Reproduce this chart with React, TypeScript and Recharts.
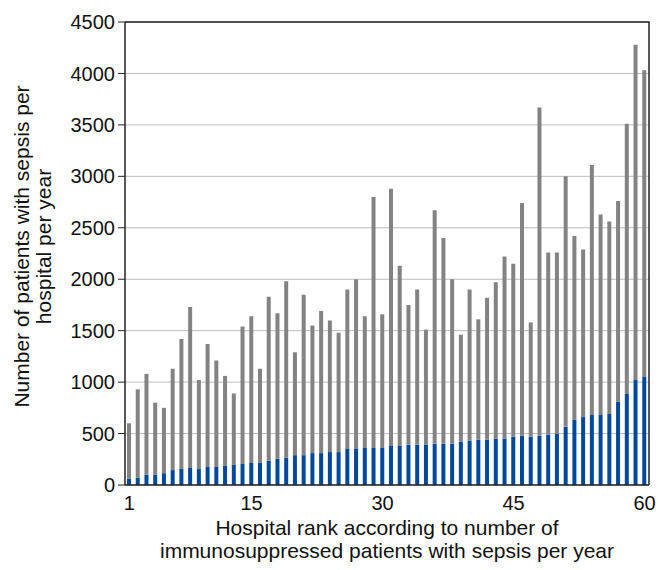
import { BarChart, Bar, XAxis, YAxis, CartesianGrid } from "recharts";

const ranks = [
  1, 2, 3, 4, 5, 6, 7, 8, 9, 10, 11, 12, 13, 14, 15, 16, 17, 18, 19, 20,
  21, 22, 23, 24, 25, 26, 27, 28, 29, 30, 31, 32, 33, 34, 35, 36, 37, 38, 39, 40,
  41, 42, 43, 44, 45, 46, 47, 48, 49, 50, 51, 52, 53, 54, 55, 56, 57, 58, 59, 60,
];

// all patients with sepsis per hospital per year
const totalSepsis = [
  600, 930, 1080, 800, 750, 1130, 1420, 1730, 1020, 1370,
  1210, 1060, 890, 1540, 1640, 1130, 1830, 1670, 1980, 1290,
  1850, 1550, 1690, 1600, 1480, 1900, 2000, 1640, 2800, 1660,
  2880, 2130, 1750, 1900, 1510, 2670, 2400, 2000, 1460, 1900,
  1610, 1820, 1970, 2220, 2150, 2740, 1580, 3670, 2260, 2260,
  3000, 2420, 2290, 3110, 2630, 2560, 2760, 3510, 4280, 4030,
];

// immunosuppressed patients with sepsis
const immunoSepsis = [
  60, 70, 100, 100, 115, 145, 155, 165, 155, 175,
  175, 185, 195, 205, 215, 215, 235, 255, 265, 290,
  290, 310, 310, 320, 320, 350, 350, 360, 360, 360,
  380, 380, 390, 390, 390, 400, 400, 400, 420, 430,
  440, 440, 450, 450, 470, 480, 470, 480, 490, 500,
  565, 635, 660, 680, 680, 690, 810, 885, 1020, 1050,
];

const xTicks = [1, 15, 30, 45, 60];
const yTicks = [0, 500, 1000, 1500, 2000, 2500, 3000, 3500, 4000, 4500];

const data = ranks.map((r, i) => ({
  rank: r,
  immuno: immunoSepsis[i],
  other: totalSepsis[i] - immunoSepsis[i],
}));

const FONT = '"Liberation Sans", Arial, Helvetica, sans-serif';
const BLUE = "#00489b";
const GRAY = "#838383";
const TOP = 22;

function YLabel(props: any) {
  const vb = props.viewBox;
  const cy = vb.y + vb.height / 2 - 7;
  return (
    <g fontFamily={FONT} fontSize={21} fill="#111">
      <text x={29} y={cy} textAnchor="middle" transform={`rotate(-90 29 ${cy})`}>
        Number of patients with sepsis per
      </text>
      <text x={51} y={cy} textAnchor="middle" transform={`rotate(-90 51 ${cy})`}>
        hospital per year
      </text>
    </g>
  );
}

// x label, plus the top and right frame of the plot box
function XLabel(props: any) {
  const vb = props.viewBox;
  const cx = vb.x + vb.width / 2;
  const right = vb.x + vb.width;
  return (
    <g>
      <path
        d={`M${vb.x},${TOP}H${right}V${vb.y}`}
        fill="none"
        stroke="#222"
        strokeWidth={1.5}
      />
      <g fontFamily={FONT} fontSize={21} fill="#111">
        <text x={cx} y={535} textAnchor="middle">
          Hospital rank according to number of
        </text>
        <text x={cx} y={558} textAnchor="middle">
          immunosuppressed patients with sepsis per year
        </text>
      </g>
    </g>
  );
}

export default function App() {
  return (
    <div style={{ position: "absolute", left: 0, top: 0 }}>
      <BarChart
        width={658}
        height={570}
        data={data}
        margin={{ top: TOP, right: 9, left: 0, bottom: 0 }}
        barSize={4}
      >
        <CartesianGrid vertical={false} stroke="#bdbdbd" />
        <XAxis
          dataKey="rank"
          ticks={xTicks}
          interval={0}
          tickLine={false}
          tickMargin={5}
          height={85}
          axisLine={{ stroke: "#222", strokeWidth: 1.5 }}
          tick={{ fill: "#111", fontSize: 20, fontFamily: FONT }}
          label={<XLabel />}
        />
        <YAxis
          domain={[0, 4500]}
          ticks={yTicks}
          width={125}
          tickSize={7}
          tickMargin={3}
          axisLine={{ stroke: "#222", strokeWidth: 1.5 }}
          tickLine={{ stroke: "#222" }}
          tick={{ fill: "#111", fontSize: 20, fontFamily: FONT }}
          label={<YLabel />}
        />
        <Bar dataKey="immuno" stackId="a" fill={BLUE} isAnimationActive={false} />
        <Bar dataKey="other" stackId="a" fill={GRAY} isAnimationActive={false} />
      </BarChart>
    </div>
  );
}
